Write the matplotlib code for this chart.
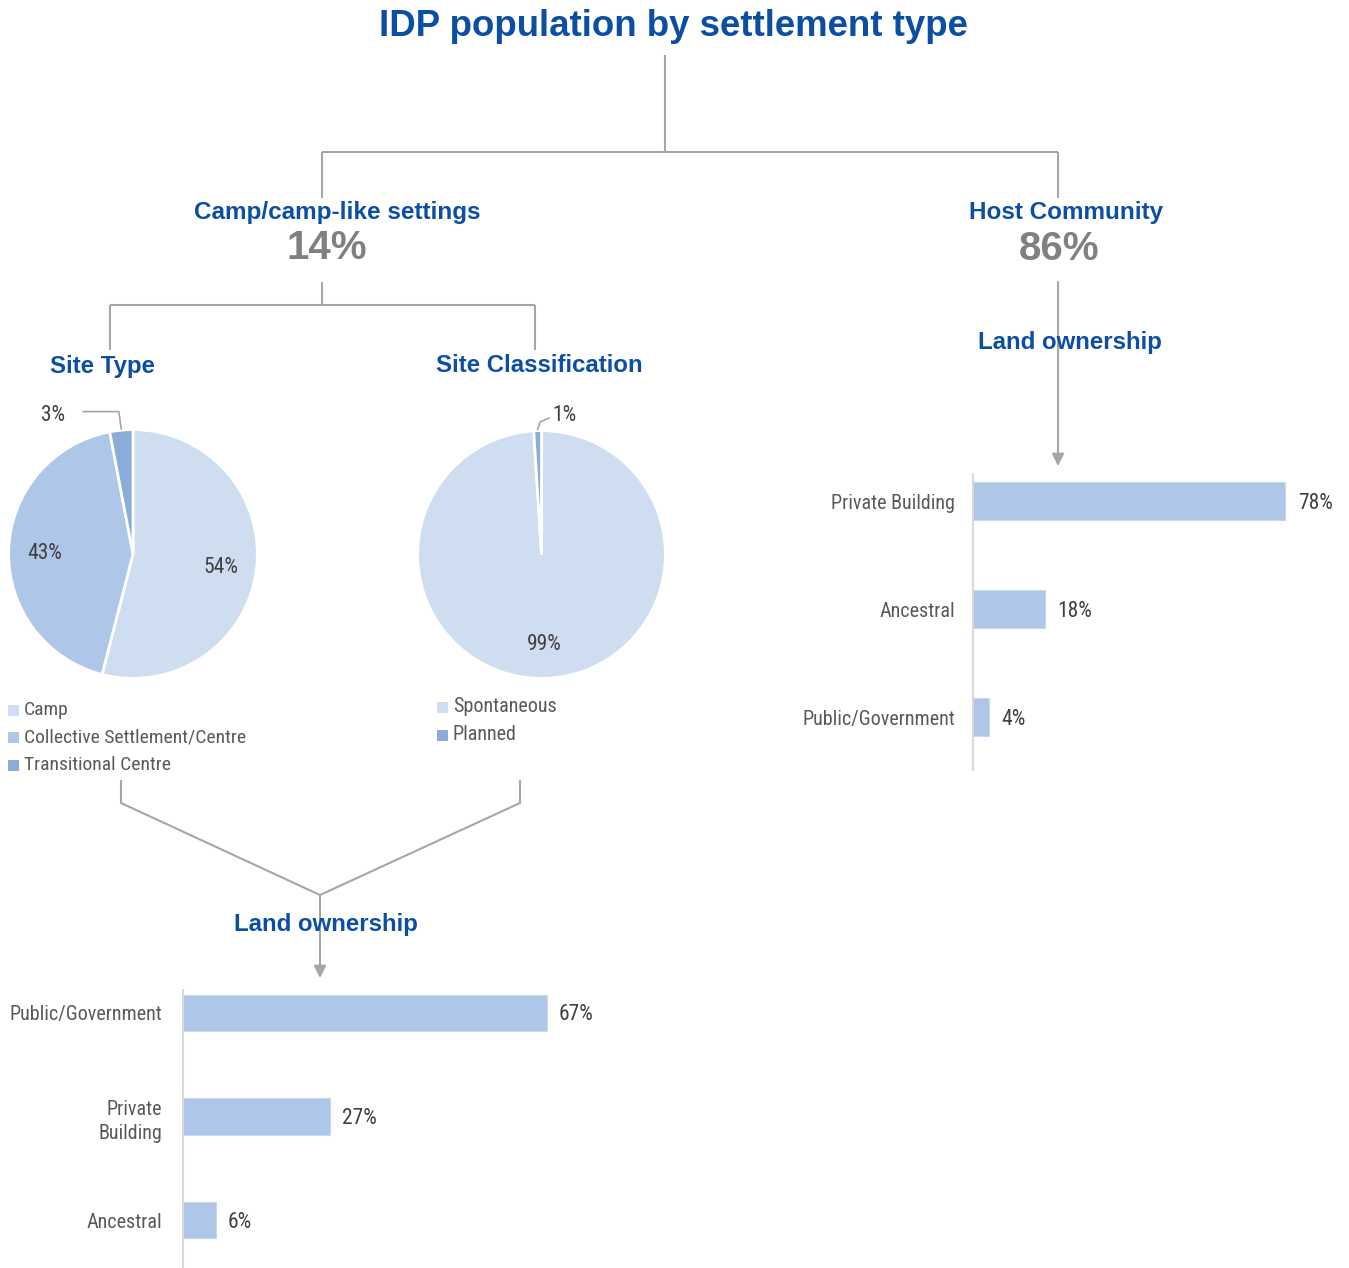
import numpy as np
import matplotlib.pyplot as plt
from matplotlib.patches import Rectangle
from matplotlib import font_manager

W, H = 1349, 1268

# values
title = "IDP population by settlement type"
groups = ["Camp/camp-like settings", "Host Community"]
group_share = [14, 86]

site_type = ["Camp", "Collective Settlement/Centre", "Transitional Centre"]
site_type_pct = [54, 43, 3]

site_class = ["Spontaneous", "Planned"]
site_class_pct = [99, 1]

host_land = ["Private Building", "Ancestral", "Public/Government"]
host_land_pct = [78, 18, 4]

camp_land = ["Public/Government", "Private\nBuilding", "Ancestral"]
camp_land_pct = [67, 27, 6]

BLUE = "#0B4EA2"
LINE = "#A6A6A6"
TXT = "#595959"
VAL = "#404040"
LIGHT, MID, DARK = "#CFDDF0", "#AEC6E8", "#8BACD9"
TYPE_COLS = [LIGHT, MID, DARK]
CLASS_COLS = [LIGHT, DARK]
BAR_COL = MID

# pick a condensed face for the small labels if one is around
installed = {f.name for f in font_manager.fontManager.ttflist}
narrow_pick = [n for n in ["Roboto Condensed", "Arial Narrow", "Archivo Narrow",
                           "PT Sans Narrow", "Liberation Sans Narrow", "Roboto"]
               if n in installed]
NARROW = narrow_pick[:1] + ["DejaVu Sans"]
HEAD = ["Liberation Sans", "DejaVu Sans"]
plt.rcParams["font.family"] = NARROW


def box(x0, y0, x1, y1):
    return [x0 / W, 1 - y1 / H, (x1 - x0) / W, (y1 - y0) / H]


fig = plt.figure(figsize=(W / 100, H / 100), dpi=100)
fig.patch.set_facecolor("white")

# overlay in pixel coordinates for the tree connectors and headings
ax0 = fig.add_axes([0, 0, 1, 1])
ax0.set_xlim(0, W)
ax0.set_ylim(H, 0)
ax0.axis("off")


def seg(*pts):
    xs, ys = zip(*pts)
    ax0.plot(xs, ys, color=LINE, lw=1.5, solid_capstyle="butt")


def arrow(x, y0, y1):
    ax0.annotate("", xy=(x, y1), xytext=(x, y0),
                 arrowprops=dict(arrowstyle="-|>", color=LINE, lw=1.5,
                                 mutation_scale=18, shrinkA=0, shrinkB=0))


def head(x, y, s, size=17.3, color=BLUE):
    ax0.text(x, y, s, ha="center", va="center", fontsize=size,
             fontweight="bold", color=color, family=HEAD)


head(673, 27, title, size=26.4)

seg((665, 55), (665, 152))
seg((322, 152), (1058, 152))
seg((322, 152), (322, 198))
seg((1058, 152), (1058, 198))

head(337, 212, groups[0], size=17.5)
head(327, 248, f"{group_share[0]}%", size=29, color="#808080")
head(1066, 212, groups[1], size=17.5)
head(1059, 249, f"{group_share[1]}%", size=29, color="#808080")

seg((322, 282), (322, 305))
seg((110, 305), (535, 305))
seg((110, 305), (110, 350))
seg((535, 305), (535, 350))
head(103, 366, "Site Type")
head(539, 365, "Site Classification")

# host community branch
arrow(1058, 282, 466)
head(1070, 342, "Land ownership")

# camp branch merging into land ownership
seg((121, 780), (121, 803), (320, 895))
seg((520, 780), (520, 803), (320, 895))
arrow(320, 895, 978)
head(326, 924, "Land ownership")


def draw_pie(rect, values, colors, small_label):
    ax = fig.add_axes(rect)
    wedges, _ = ax.pie(values, colors=colors, startangle=90,
                       counterclock=False,
                       wedgeprops=dict(edgecolor="white", linewidth=2))
    ax.set_xlim(-1.005, 1.005)
    ax.set_ylim(-1.005, 1.005)
    ax.set_aspect("equal")
    for w, v in zip(wedges, values):
        mid = np.deg2rad((w.theta1 + w.theta2) / 2)
        if v >= 10:
            ax.text(0.71 * np.cos(mid), 0.71 * np.sin(mid) - 0.02, f"{v}%",
                    ha="center", va="center", fontsize=15.5, color=VAL)
        else:
            small_label(ax, np.cos(mid), np.sin(mid), v)
    return ax


def label_3(ax, ex, ey, v):
    ax.plot([ex, ex - 0.02, -0.4], [ey + 0.01, 1.145, 1.145], color=LINE,
            lw=1.2, clip_on=False)
    ax.text(-0.64, 1.11, f"{v}%", ha="center", va="center", fontsize=15.5,
            color=VAL, clip_on=False)


def label_1(ax, ex, ey, v):
    ax.plot([ex, ex + 0.02, 0.06], [ey + 0.01, 1.07, 1.1], color=LINE,
            lw=1.2, clip_on=False)
    ax.text(0.09, 1.12, f"{v}%", ha="left", va="center", fontsize=15.5,
            color=VAL, clip_on=False)


draw_pie(box(8, 429, 258, 679), site_type_pct, TYPE_COLS, label_3)
draw_pie(box(417, 430, 666, 679), site_class_pct, CLASS_COLS, label_1)

# pie legends
for i, name in enumerate(site_type):
    y = 710 + i * 27.5
    ax0.add_patch(Rectangle((8, y - 5.5), 11, 11, color=TYPE_COLS[i], lw=0))
    ax0.text(24, y, name, ha="left", va="center", fontsize=14, color=TXT)
for i, name in enumerate(site_class):
    y = 707 + i * 28
    ax0.add_patch(Rectangle((437, y - 5.5), 11, 11, color=CLASS_COLS[i], lw=0))
    ax0.text(453, y, name, ha="left", va="center", fontsize=14.5, color=TXT)


def draw_bars(rect, cats, vals, xmax, ylim, offset, pad):
    ax = fig.add_axes(rect)
    ypos = range(len(cats))
    ax.barh(ypos, vals, height=0.35, color=BAR_COL, edgecolor="#C9D8EF", lw=0.8)
    ax.set_xlim(0, xmax)
    ax.set_ylim(*ylim)
    for s in ["top", "right", "bottom"]:
        ax.spines[s].set_visible(False)
    ax.spines["left"].set_color("#D9D9D9")
    ax.spines["left"].set_linewidth(1.5)
    ax.set_xticks([])
    ax.set_yticks(list(ypos))
    ax.set_yticklabels(cats, fontsize=14.5, color=TXT, multialignment="right",
                       linespacing=1.35)
    ax.tick_params(axis="y", length=0, pad=pad)
    ax.patch.set_alpha(0)
    for y, v in zip(ypos, vals):
        ax.text(v + offset, y + 0.02, f"{v}%", ha="left", va="center",
                fontsize=15.5, color=VAL)
    return ax


draw_bars(box(973, 474, 1349, 770), host_land, host_land_pct, 94,
          (2.49, -0.25), 3.2, 13)
draw_bars(box(183, 990, 783, 1268), camp_land, camp_land_pct, 110.5,
          (2.46, -0.22), 2.2, 15)

fig.savefig("out.png", dpi=100, facecolor="white")
